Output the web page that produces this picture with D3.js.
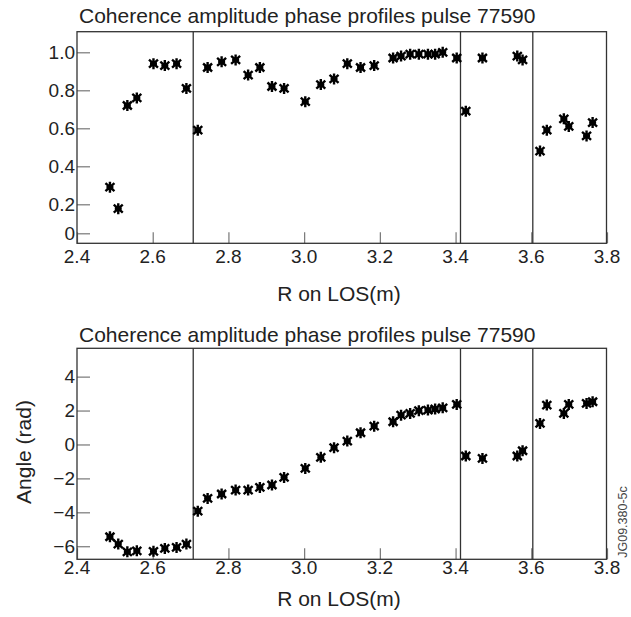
<!DOCTYPE html>
<html>
<head>
<meta charset="utf-8">
<script src="https://cdn.jsdelivr.net/npm/d3@7"></script>
<style>
  body { margin: 0; background: #fff; }
  svg { display: block; font-family: "Liberation Sans", Arial, Helvetica, sans-serif; }
</style>
</head>
<body>
<svg id="chart"></svg>
<script>
// R along line of sight (m), shared by both panels
const rValues = [2.487, 2.509, 2.533, 2.558, 2.602, 2.632, 2.663, 2.689, 2.719, 2.745,
  2.782, 2.819, 2.852, 2.883, 2.915, 2.947, 3.003, 3.044, 3.079, 3.114,
  3.149, 3.185, 3.235, 3.256, 3.280, 3.303, 3.327, 3.346, 3.366, 3.403,
  3.427, 3.471, 3.563, 3.577, 3.623, 3.641, 3.686, 3.699, 3.746, 3.762];

// coherence amplitude
const amplitudeValues = [0.29, 0.17, 0.72, 0.76, 0.94, 0.93, 0.94, 0.81, 0.59, 0.92,
  0.95, 0.96, 0.88, 0.92, 0.82, 0.81, 0.74, 0.83, 0.86, 0.94,
  0.92, 0.93, 0.97, 0.98, 0.99, 0.99, 0.99, 0.99, 1.00, 0.97,
  0.69, 0.97, 0.98, 0.96, 0.48, 0.59, 0.65, 0.61, 0.56, 0.63];

// phase angle (rad)
const phaseValues = [-5.44, -5.87, -6.33, -6.27, -6.30, -6.13, -6.07, -5.87, -3.93, -3.18,
  -2.92, -2.69, -2.69, -2.53, -2.39, -1.94, -1.41, -0.76, -0.19, 0.20,
  0.69, 1.08, 1.34, 1.73, 1.83, 1.99, 2.03, 2.09, 2.16, 2.36,
  -0.68, -0.82, -0.68, -0.37, 1.24, 2.32, 1.83, 2.36, 2.42, 2.52];

// vertical separators between channels groups
const separators = [2.707, 3.413, 3.604];

const xTicks = [2.4, 2.6, 2.8, 3.0, 3.2, 3.4, 3.6, 3.8];
const ampTicks = [0, 0.2, 0.4, 0.6, 0.8, 1.0];
const phaseTicks = [-6, -4, -2, 0, 2, 4];

const titleText = "Coherence amplitude phase profiles pulse 77590";
const xLabel = "R on LOS(m)";
const phaseLabel = "Angle (rad)";
const stamp = "JG09.380-5c";

const svg = d3.select("#chart").attr("width", 631).attr("height", 617);

const left = 77, right = 606.5;
const scaleX = d3.scaleLinear().domain([2.4, 3.8]).range([77, 607]);

function drawPanel(panel, values, scaleY, yTicks, yFormat) {
  const g = svg.append("g");

  // inward ticks on x
  g.append("g")
    .attr("transform", `translate(0, ${panel.bottom})`)
    .call(d3.axisTop(scaleX).tickValues(xTicks).tickSize(11).tickFormat(""))
    .call(a => a.select(".domain").remove())
    .selectAll("line").attr("stroke", "#777").attr("stroke-width", 1.2);

  g.selectAll(".xlab")
    .data(xTicks)
    .enter()
    .append("text")
    .attr("x", d => scaleX(d))
    .attr("y", panel.xLabelY)
    .attr("text-anchor", "middle")
    .style("font-size", "19px")
    .style("fill", "#222")
    .text(d => d.toFixed(1));

  // inward ticks on y
  g.append("g")
    .attr("transform", `translate(${left}, 0)`)
    .call(d3.axisRight(scaleY).tickValues(yTicks).tickSize(13).tickFormat(""))
    .call(a => a.select(".domain").remove())
    .selectAll("line").attr("stroke", "#777").attr("stroke-width", 1.2);

  g.selectAll(".ylab")
    .data(yTicks)
    .enter()
    .append("text")
    .attr("x", left - 2)
    .attr("y", d => scaleY(d))
    .attr("dy", "0.36em")
    .attr("text-anchor", "end")
    .style("font-size", "19px")
    .style("fill", "#222")
    .text(yFormat);

  // separators
  g.selectAll(".sep")
    .data(separators)
    .enter()
    .append("line")
    .attr("x1", d => scaleX(d))
    .attr("x2", d => scaleX(d))
    .attr("y1", panel.top)
    .attr("y2", panel.bottom)
    .attr("stroke", "#333")
    .attr("stroke-width", 1.3);

  // frame
  g.append("rect")
    .attr("x", left)
    .attr("y", panel.top)
    .attr("width", right - left)
    .attr("height", panel.bottom - panel.top)
    .attr("fill", "none")
    .attr("stroke", "#333")
    .attr("stroke-width", 1.3);

  // asterisk markers
  const star = "M0,-5.5L0,5.5M-4.5,-4L4.5,4M4.5,-4L-4.5,4M-3.5,0L3.5,0";
  g.selectAll(".pt")
    .data(rValues.map((r, i) => ({ r: r, v: values[i] })))
    .enter()
    .append("path")
    .attr("d", star)
    .attr("transform", d => `translate(${scaleX(d.r)}, ${scaleY(d.v)})`)
    .attr("fill", "none")
    .attr("stroke", "#000")
    .attr("stroke-width", 2.4);

  g.append("text")
    .attr("x", 79)
    .attr("y", panel.titleY)
    .style("font-size", "21px")
    .style("fill", "#222")
    .text(titleText);

  g.append("text")
    .attr("x", 339)
    .attr("y", panel.axisLabelY)
    .attr("text-anchor", "middle")
    .style("font-size", "21px")
    .style("fill", "#222")
    .text(xLabel);
}

const topPanel = { top: 31.7, bottom: 243.3, xLabelY: 262.5, titleY: 23, axisLabelY: 300.5 };
const botPanel = { top: 348.3, bottom: 559.3, xLabelY: 573.5, titleY: 341.5, axisLabelY: 606 };

// amplitude axis: 0 tick sits closer to 0.2 than the rest in the original plot
const scaleAmp = d3.scaleLinear().domain([0, 0.2, 1.0]).range([233.3, 204.3, 52.3]);
const scalePhase = d3.scaleLinear().domain([-6.77, 5.67]).range([559.3, 348.3]);

drawPanel(topPanel, amplitudeValues, scaleAmp, ampTicks, d => d === 0 ? "0" : d.toFixed(1));
drawPanel(botPanel, phaseValues, scalePhase, phaseTicks, d3.format("d"));

svg.append("text")
  .attr("transform", "translate(31, 452) rotate(-90)")
  .attr("text-anchor", "middle")
  .style("font-size", "21px")
  .style("fill", "#222")
  .text(phaseLabel);

svg.append("text")
  .attr("transform", "translate(627, 522) rotate(-90)")
  .attr("text-anchor", "middle")
  .style("font-size", "12.5px")
  .style("fill", "#444")
  .text(stamp);
</script>
</body>
</html>
